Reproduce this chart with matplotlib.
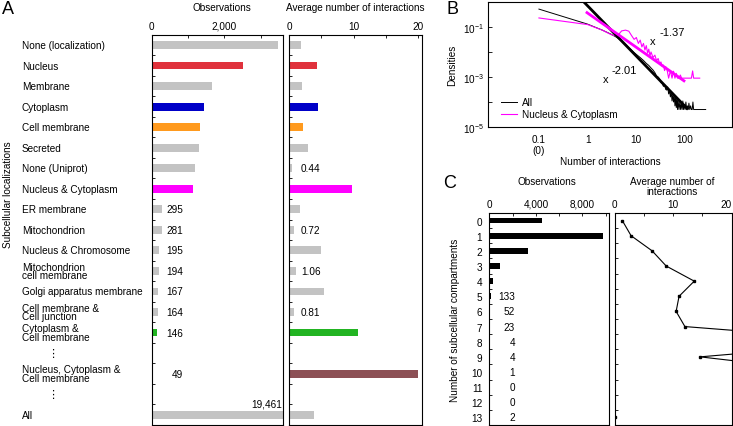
import numpy as np
import matplotlib
matplotlib.use('Agg')
import matplotlib.pyplot as plt
from matplotlib.transforms import blended_transform_factory
from matplotlib.ticker import FuncFormatter

plt.rcParams['font.family'] = ['Liberation Sans', 'DejaVu Sans']
plt.rcParams['font.size'] = 7.2
plt.rcParams['mathtext.default'] = 'regular'
plt.rcParams['axes.linewidth'] = 0.8

W, H = 733, 427
nan = np.nan

# ---- panel A: localizations ----
loc_names = ['None (localization)', 'Nucleus', 'Membrane', 'Cytoplasm', 'Cell membrane',
             'Secreted', 'None (Uniprot)', 'Nucleus & Cytoplasm', 'ER membrane',
             'Mitochondrion', 'Nucleus & Chromosome', 'Mitochondrion\ncell membrane',
             'Golgi apparatus membrane', 'Cell membrane &\nCell junction',
             'Cytoplasm &\nCell membrane', '\u22ee', 'Nucleus, Cytoplasm &\nCell membrane',
             '\u22ee', 'All']
loc_obs = [3490, 2515, 1660, 1440, 1330, 1300, 1190, 1140, 295, 281, 195, 194, 167, 164,
           146, nan, 49, nan, 19461]
loc_avg = [1.9, 4.4, 2.0, 4.5, 2.1, 3.0, 0.44, 9.7, 1.7, 0.72, 4.9, 1.06, 5.4, 0.81,
           10.6, nan, 19.9, nan, 3.9]
gray = '#c3c3c3'
loc_colors = [gray, '#e0323c', gray, '#0000c8', '#ff9a1e', gray, gray, '#ff00ff', gray,
              gray, gray, gray, gray, gray, '#22b422', gray, '#8c5055', gray, gray]

# ---- panel B: degree densities ----
all_k = [0.1, 1, 2, 3, 4, 5, 6, 7, 8, 9, 10, 12, 14, 16, 18, 20, 22, 24, 26, 28, 30,
         32, 34, 36, 38, 40, 42, 44, 46, 48, 50, 52, 54, 56, 58, 60, 62, 64, 66, 68, 70,
         72, 75, 78, 81, 84, 87, 90, 93, 96, 100, 104, 108, 112, 116, 120, 125, 130,
         135, 140, 145, 150, 265]
all_dens = [0.52, 0.13, 0.075, 0.052, 0.038, 0.027, 0.020, 0.015, 0.0118, 0.0095,
            0.0080, 0.0060, 0.0046, 0.0035, 0.0029, 0.0023, 0.0019, 0.0015, 0.0011,
            0.0010, 0.00085, 0.0006, 0.00055, 0.00042, 0.0005, 0.00032, 0.0003, 0.0004,
            0.00021, 0.00028, 0.00016, 0.00025, 0.00011, 0.0002, 0.0001, 0.00018,
            0.00007, 0.00015, 0.00006, 0.00013, 0.00005, 0.00012, 0.00005, 0.0001,
            0.00005, 0.00009, 0.00005, 0.00011, 0.00005, 0.00008, 0.00005, 0.0001,
            0.00005, 0.00007, 0.00005, 0.00009, 0.00005, 0.00007, 0.00005, 0.00005,
            0.0001, 0.00005, 0.00005]
nc_k = [0.1, 1, 2, 3, 4, 5, 6, 7, 8, 9, 10, 11, 12, 13, 14, 15, 16, 17, 18, 19, 20, 22,
        24, 26, 28, 30, 32, 34, 36, 38, 40, 43, 46, 50, 54, 58, 62, 66, 70, 75, 80, 85,
        100, 120, 135, 143, 150, 200]
nc_dens = [0.23, 0.125, 0.075, 0.05, 0.042, 0.07, 0.075, 0.068, 0.045, 0.032, 0.038,
           0.022, 0.03, 0.016, 0.022, 0.012, 0.018, 0.009, 0.013, 0.007, 0.01, 0.006,
           0.0075, 0.0045, 0.0055, 0.0035, 0.004, 0.0026, 0.003, 0.0018, 0.0026, 0.0018,
           0.0009, 0.0018, 0.0009, 0.0017, 0.0009, 0.0014, 0.0009, 0.0009, 0.0012, 0.0009,
           0.0009, 0.0009, 0.0009, 0.00175, 0.0009, 0.0009]
fit_all_k = [0.84, 110]
fit_all_c, fit_all_exp = 0.70, -2.01
fit_nc_k = [0.97, 95]
fit_nc_c, fit_nc_exp = 0.36, -1.37

# ---- panel C: number of compartments ----
n_comp = list(range(14))
comp_obs = [4550, 9780, 3280, 880, 290, 133, 52, 23, 4, 4, 1, 0, 0, 2]
comp_avg = [1.3, 2.8, 6.4, 8.8, 13.6, 11.0, 10.5, 12.0, 45, 14.6, 37, nan, nan, 0]


def box(l, t, r, b):
    return [l / W, 1 - b / H, (r - l) / W, (b - t) / H]


def comma(v, pos):
    return '{:,.0f}'.format(v)


fig = plt.figure(figsize=(W / 100, H / 100), dpi=100)

# ================= A =================
rows = np.arange(len(loc_names))
axo = fig.add_axes(box(151.7, 35.7, 282.7, 426))
axa = fig.add_axes(box(289, 35.7, 422.3, 426))
for ax in (axo, axa):
    ax.set_ylim(len(loc_names) - 0.5, -0.5)
    ax.xaxis.tick_top()
    ax.set_yticks([])
    ax.set_yticks(rows[:-1] + 0.5, minor=True)
    ax.tick_params(axis='y', which='minor', direction='in', length=2.5, width=0.6, left=True)
    ax.tick_params(axis='x', which='both', direction='in', length=2.5, width=0.6, pad=3)

axo.barh(rows, loc_obs, height=0.38, color=loc_colors)
axo.set_xlim(0, 3610)
axo.set_xticks([0, 2000])
axo.set_xticks([1000, 3000], minor=True)
axo.xaxis.set_major_formatter(FuncFormatter(comma))
for r, v in zip(rows, loc_obs):
    if v < 1000:
        axo.text(876, r, '%d' % v, ha='right', va='center')
axo.text(3590, 17.45, '{:,}'.format(loc_obs[-1]), ha='right', va='center')

axa.barh(rows, loc_avg, height=0.38, color=loc_colors)
axa.set_xlim(0, 20.6)
axa.set_xticks([0, 10, 20])
axa.set_xticks([5, 15], minor=True)
for r, v in zip(rows, loc_avg):
    if v < 1.5:
        axa.text(1.85, r, '%.2f' % v, ha='left', va='center')

tr = blended_transform_factory(fig.transFigure, axo.transData)
for r, name in zip(rows, loc_names):
    if name == '\u22ee':
        axo.text(53 / W, r, name, transform=tr, ha='center', va='center', fontsize=8)
    else:
        axo.text(22 / W, r, name, transform=tr, ha='left', va='center', linespacing=0.85)

fig.text(222 / W, 1 - 8 / H, 'Observations', ha='center', va='center')
fig.text(355 / W, 1 - 8 / H, 'Average number of interactions', ha='center', va='center')
fig.text(8 / W, 1 - 195 / H, 'Subcellular localizations', rotation=90, ha='center', va='center')
fig.text(2 / W, 1 - 10 / H, 'A', fontsize=13, ha='left', va='center')

# ================= B =================
axb = fig.add_axes(box(488, 3, 732, 128))
axb.set_xscale('log')
axb.set_yscale('log')
axb.plot(all_k, all_dens, color='black', lw=0.7, label='All')
axb.plot(nc_k, nc_dens, color='#ff00ff', lw=0.8, label='Nucleus & Cytoplasm')
fk = np.array(fit_all_k)
axb.plot(fk, fit_all_c * fk ** fit_all_exp, color='black', lw=2.0)
fk = np.array(fit_nc_k)
axb.plot(fk, fit_nc_c * fk ** fit_nc_exp, color='#ff00ff', lw=2.0)
axb.set_xlim(0.009, 920)
axb.set_ylim(1e-5, 1)
axb.set_xticks([0.1, 1, 10, 100])
axb.set_xticklabels(['0.1\n(0)', '1', '10', '100'], linespacing=1.1)
axb.xaxis.set_minor_locator(plt.NullLocator())
axb.set_yticks([1e-1, 1e-3, 1e-5])
axb.set_yticklabels(['$10^{-1}$', '$10^{-3}$', '$10^{-5}$'])
axb.set_yticks([1e-2, 1e-4], minor=True)
axb.yaxis.set_minor_formatter(plt.NullFormatter())
axb.tick_params(axis='x', which='both', length=0, pad=5)
axb.tick_params(axis='y', which='both', direction='in', length=3, width=0.6, pad=3)
axb.set_xlabel('Number of interactions', labelpad=1)
axb.set_ylabel('Densities', labelpad=4)
axb.legend(loc='lower left', bbox_to_anchor=(0.02, 0.0), frameon=False, fontsize=7.2,
           handlelength=1.6, handletextpad=0.5, borderpad=0.3, labelspacing=0.15)
fig.text(653 / W, 1 - 42 / H, 'x', fontsize=8, ha='center', va='center')
fig.text(659 / W, 1 - 33 / H, '-1.37', fontsize=8, ha='left', va='center')
fig.text(606 / W, 1 - 80 / H, 'x', fontsize=8, ha='center', va='center')
fig.text(612 / W, 1 - 71 / H, '-2.01', fontsize=8, ha='left', va='center')
fig.text(452 / W, 1 - 9 / H, 'B', fontsize=13, ha='center', va='center')

# ================= C =================
axco = fig.add_axes(box(489.3, 214, 608.7, 426))
axca = fig.add_axes(box(614.7, 214, 731.7, 426))
for ax in (axco, axca):
    ax.set_ylim(13.5, -0.5)
    ax.xaxis.tick_top()
    ax.set_yticks(n_comp[:-1], minor=False)
    ax.set_yticks(np.array(n_comp[:-1]) + 0.5, minor=True)
    ax.tick_params(axis='y', which='minor', direction='in', length=2.5, width=0.6)
    ax.tick_params(axis='y', which='major', length=0)
    ax.tick_params(axis='x', which='both', direction='in', length=2.5, width=0.6, pad=3)

axco.barh(n_comp, comp_obs, height=0.38, color='black')
axco.set_xlim(0, 10250)
axco.set_xticks([0, 4000, 8000])
axco.set_xticks([2000, 6000, 10000], minor=True)
axco.xaxis.set_major_formatter(FuncFormatter(comma))
axco.set_yticks(n_comp)
axco.set_yticklabels([str(n) for n in n_comp])
axco.tick_params(axis='y', which='major', pad=5)
for n, v in zip(n_comp, comp_obs):
    if v < 200:
        axco.text(2206, n, '%d' % v, ha='right', va='center')
axco.set_ylabel('Number of subcellular compartments', labelpad=8)

axca.plot(comp_avg, n_comp, color='black', lw=0.8, marker='s', markersize=2,
          clip_on=True)
axca.set_xlim(0, 20)
axca.set_xticks([0, 10, 20])
axca.set_xticks([5, 15], minor=True)
axca.set_yticklabels([])
# last tick label sits at the figure edge
axca.get_xticklabels()[-1].set_ha('right')

fig.text(547 / W, 1 - 182 / H, 'Observations', ha='center', va='center')
fig.text(672 / W, 1 - 187 / H, 'Average number of\ninteractions', ha='center', va='center',
         linespacing=1.0)
fig.text(450 / W, 1 - 184 / H, 'C', fontsize=13, ha='center', va='center')

fig.savefig('out.png', dpi=100)
